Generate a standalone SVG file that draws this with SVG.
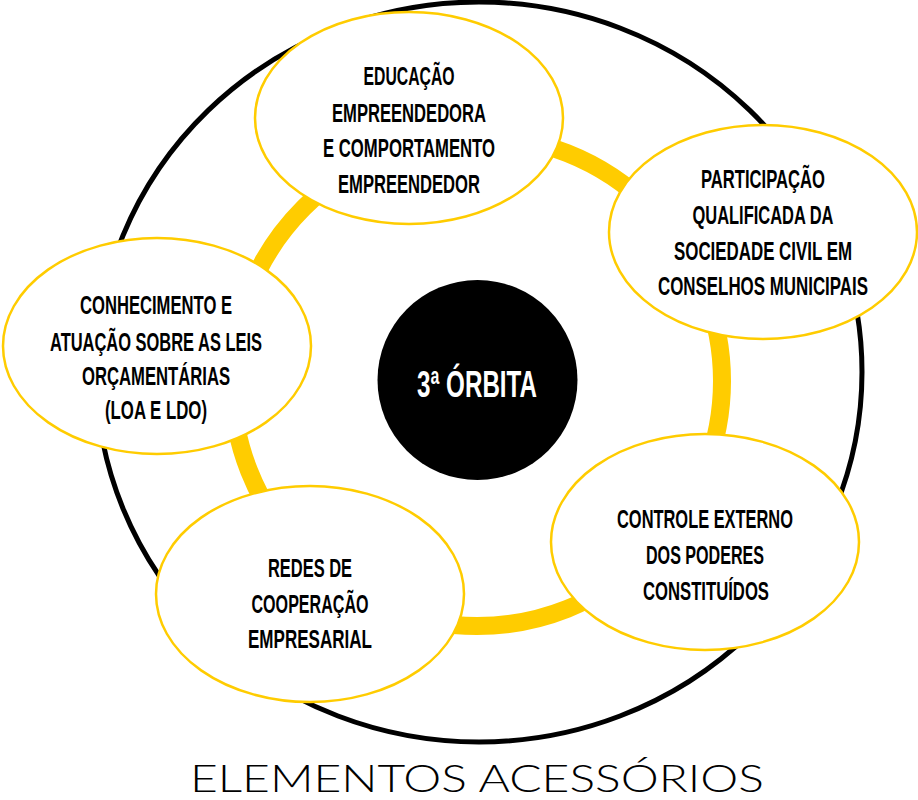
<svg xmlns="http://www.w3.org/2000/svg" width="918" height="800" viewBox="0 0 918 800">
<style>
.node ellipse{fill:#fff;stroke:#FFCC00;stroke-width:2.5}
.lbl{font-family:"Liberation Sans","DejaVu Sans",sans-serif;font-weight:bold;font-size:25px;fill:#000;text-anchor:middle}
.title{font-family:"Lato","Open Sans","Liberation Sans",sans-serif;font-weight:300;font-size:37px;fill:#000}
</style>
<rect width="918" height="800" fill="#fff"/>
<ellipse cx="479" cy="372" rx="383" ry="370" fill="none" stroke="#000" stroke-width="5"/>
<g id="connectors">
<circle cx="477" cy="381" r="245" fill="none" stroke="#FFCC00" stroke-width="18"/>
</g>
<g id="center">
<circle cx="477.5" cy="380" r="100" fill="#000"/>
<text transform="translate(477,397) scale(0.8,1)" x="0" y="0" font-family="'Liberation Sans','DejaVu Sans',sans-serif" font-weight="bold" font-size="37" fill="#fff" text-anchor="middle" textLength="150" lengthAdjust="spacingAndGlyphs">3ª ÓRBITA</text>
</g>
<g id="node-educacao" class="node">
<ellipse cx="409" cy="118" rx="154" ry="106"/>
<text class="lbl" transform="translate(409,85) scale(0.72,1)" textLength="126.4" lengthAdjust="spacingAndGlyphs">EDUCAÇÃO</text>
<text class="lbl" transform="translate(409,122) scale(0.72,1)" textLength="213.9" lengthAdjust="spacingAndGlyphs">EMPREENDEDORA</text>
<text class="lbl" transform="translate(409,157) scale(0.72,1)" textLength="238.9" lengthAdjust="spacingAndGlyphs">E COMPORTAMENTO</text>
<text class="lbl" transform="translate(409,193) scale(0.72,1)" textLength="197.2" lengthAdjust="spacingAndGlyphs">EMPREENDEDOR</text>
</g>
<g id="node-participacao" class="node">
<ellipse cx="763" cy="232" rx="154" ry="107"/>
<text class="lbl" transform="translate(763,188) scale(0.72,1)" textLength="172.2" lengthAdjust="spacingAndGlyphs">PARTICIPAÇÃO</text>
<text class="lbl" transform="translate(763,224) scale(0.72,1)" textLength="195.8" lengthAdjust="spacingAndGlyphs">QUALIFICADA DA</text>
<text class="lbl" transform="translate(763,260) scale(0.72,1)" textLength="247.2" lengthAdjust="spacingAndGlyphs">SOCIEDADE CIVIL EM</text>
<text class="lbl" transform="translate(763,295) scale(0.72,1)" textLength="291.7" lengthAdjust="spacingAndGlyphs">CONSELHOS MUNICIPAIS</text>
</g>
<g id="node-controle" class="node">
<ellipse cx="705" cy="542" rx="154" ry="108"/>
<text class="lbl" transform="translate(705,528) scale(0.72,1)" textLength="244.4" lengthAdjust="spacingAndGlyphs">CONTROLE EXTERNO</text>
<text class="lbl" transform="translate(705,564) scale(0.72,1)" textLength="163.9" lengthAdjust="spacingAndGlyphs">DOS PODERES</text>
<text class="lbl" transform="translate(706,600) scale(0.72,1)" textLength="175" lengthAdjust="spacingAndGlyphs">CONSTITUÍDOS</text>
</g>
<g id="node-redes" class="node">
<ellipse cx="310" cy="594" rx="154" ry="108"/>
<text class="lbl" transform="translate(310,577) scale(0.72,1)" textLength="116.7" lengthAdjust="spacingAndGlyphs">REDES DE</text>
<text class="lbl" transform="translate(310,613) scale(0.72,1)" textLength="162.5" lengthAdjust="spacingAndGlyphs">COOPERAÇÃO</text>
<text class="lbl" transform="translate(310,648) scale(0.72,1)" textLength="172.2" lengthAdjust="spacingAndGlyphs">EMPRESARIAL</text>
</g>
<g id="node-conhecimento" class="node">
<ellipse cx="157" cy="346" rx="154" ry="108"/>
<text class="lbl" transform="translate(156,314) scale(0.72,1)" textLength="211.1" lengthAdjust="spacingAndGlyphs">CONHECIMENTO E</text>
<text class="lbl" transform="translate(156,351) scale(0.72,1)" textLength="294.4" lengthAdjust="spacingAndGlyphs">ATUAÇÃO SOBRE AS LEIS</text>
<text class="lbl" transform="translate(156,385) scale(0.72,1)" textLength="205.6" lengthAdjust="spacingAndGlyphs">ORÇAMENTÁRIAS</text>
<text class="lbl" transform="translate(156,419) scale(0.72,1)" textLength="141.7" lengthAdjust="spacingAndGlyphs">(LOA E LDO)</text>
</g>
<text class="title" x="190" y="792" textLength="574" lengthAdjust="spacingAndGlyphs">ELEMENTOS ACESSÓRIOS</text>
</svg>
